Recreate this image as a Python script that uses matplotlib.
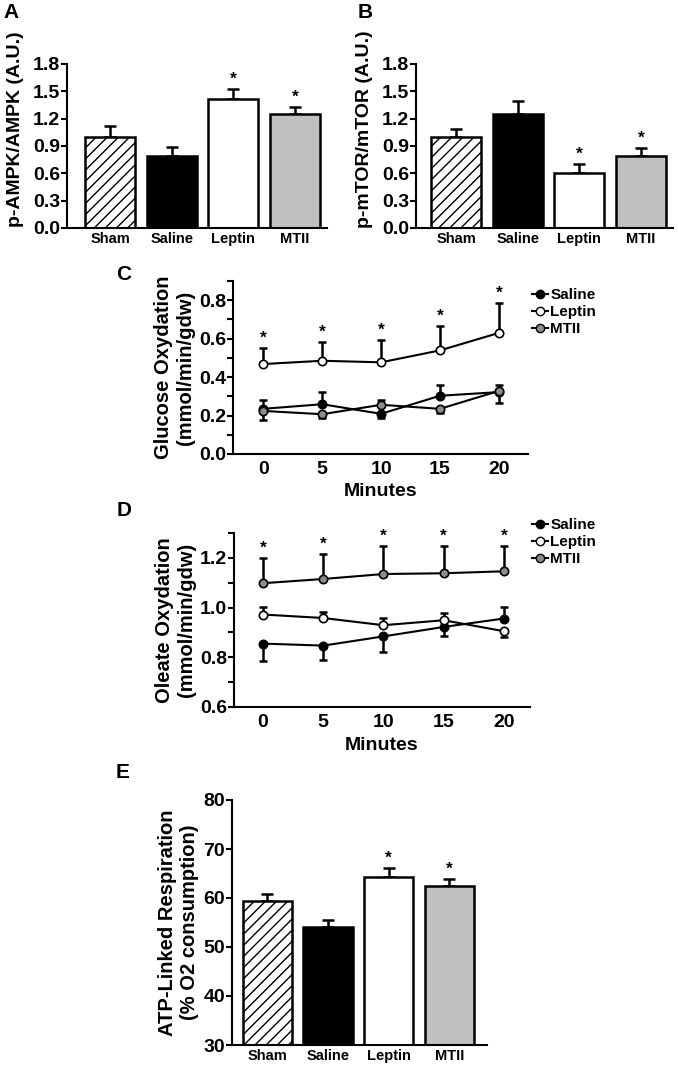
import matplotlib
matplotlib.use("Agg")
import matplotlib.pyplot as plt
import numpy as np
from matplotlib.lines import Line2D

plt.rcParams['font.family'] = ['Liberation Sans', 'DejaVu Sans']
plt.rcParams['font.weight'] = 'bold'
plt.rcParams['axes.labelweight'] = 'bold'
plt.rcParams['hatch.linewidth'] = 1.0
plt.rcParams['axes.linewidth'] = 1.5

# ---- data ----
groups = ["Sham", "Saline", "Leptin", "MTII"]
bar_colors = ["white", "black", "white", "#c0c0c0"]
bar_hatch = ["///", None, None, None]

ampk = [1.00, 0.79, 1.42, 1.25]
ampk_err = [0.12, 0.10, 0.11, 0.08]
ampk_sig = [False, False, True, True]

mtor = [1.00, 1.25, 0.60, 0.79]
mtor_err = [0.09, 0.14, 0.10, 0.09]
mtor_sig = [False, False, True, True]

atp = [59.4, 54.1, 64.3, 62.45]
atp_err = [1.5, 1.5, 1.9, 1.4]
atp_sig = [False, False, True, True]

minutes = [0, 5, 10, 15, 20]

glu_saline = [0.235, 0.259, 0.209, 0.303, 0.322]
glu_saline_lo = [0.0, 0.0, 0.023, 0.0, 0.058]
glu_saline_hi = [0.047, 0.066, 0.0, 0.054, 0.0]
glu_leptin = [0.468, 0.485, 0.477, 0.539, 0.630]
glu_leptin_hi = [0.083, 0.099, 0.116, 0.129, 0.156]
glu_mtii = [0.224, 0.207, 0.256, 0.235, 0.328]
glu_mtii_lo = [0.047, 0.021, 0.0, 0.023, 0.0]
glu_mtii_hi = [0.0, 0.0, 0.026, 0.0, 0.029]

ole_saline = [0.855, 0.847, 0.884, 0.922, 0.956]
ole_saline_lo = [0.069, 0.057, 0.061, 0.035, 0.0]
ole_saline_hi = [0.0, 0.0, 0.0, 0.0, 0.048]
ole_leptin = [0.972, 0.958, 0.929, 0.949, 0.905]
ole_leptin_lo = [0.0, 0.0, 0.0, 0.0, 0.025]
ole_leptin_hi = [0.031, 0.025, 0.030, 0.030, 0.0]
ole_mtii = [1.098, 1.115, 1.135, 1.138, 1.146]
ole_mtii_hi = [0.102, 0.101, 0.112, 0.109, 0.101]

line_colors = {"Saline": "black", "Leptin": "white", "MTII": "#8c8c8c"}

W, H = 678, 1065
fig = plt.figure(figsize=(W / 100, H / 100), dpi=100)


def px_axes(left, right, top, bottom):
    return fig.add_axes([left / W, 1 - bottom / H, (right - left) / W, (bottom - top) / H])


def star(ax, x, y):
    ax.annotate("*", xy=(x, y), xytext=(0, 1.5), textcoords="offset points",
                ha="center", va="bottom", fontsize=12.5, fontweight="bold")


def bar_panel(ax, vals, errs, sig, ylim, yticks, ylabel, xlim):
    x = np.arange(len(groups))
    ax.bar(x, vals, width=0.81, color=bar_colors, edgecolor="black", linewidth=1.8,
           hatch=bar_hatch, zorder=2)
    ax.errorbar(x, vals, yerr=[np.zeros(len(vals)), errs], fmt="none", ecolor="black",
                elinewidth=1.8, capsize=4, capthick=1.8, zorder=1)
    for xi, v, e, s in zip(x, vals, errs, sig):
        if s:
            star(ax, xi, v + e)
    ax.set_xlim(*xlim)
    ax.set_ylim(*ylim)
    ax.set_yticks(yticks)
    ax.set_xticks(x)
    ax.set_xticklabels(groups, fontsize=10.5)
    ax.tick_params(axis="x", length=0, pad=3)
    ax.tick_params(axis="y", length=4, width=1.5, labelsize=14, pad=1)
    ax.spines[["top", "right"]].set_visible(False)
    ax.set_ylabel(ylabel, fontsize=14.5, labelpad=3)


def errline(ax, y, lo, hi, face, label):
    ax.errorbar(minutes, y, yerr=[lo, hi], fmt="none", ecolor="black", elinewidth=1.8,
                capsize=3, capthick=1.8, zorder=2)
    ax.plot(minutes, y, color="black", linewidth=1.5, marker="o", markersize=6,
            markerfacecolor=face, markeredgecolor="black", markeredgewidth=1.2,
            zorder=3, label=label)


def line_panel(ax, xlim, ylim, yticks, minor, ylabel, leg_top):
    ax.set_xlim(*xlim)
    ax.set_ylim(*ylim)
    ax.set_xticks(minutes)
    ax.set_yticks(yticks)
    ax.set_yticks(minor, minor=True)
    ax.tick_params(axis="x", length=0, labelsize=14, pad=5)
    ax.tick_params(axis="y", which="both", length=4, width=1.5, labelsize=14, pad=1)
    ax.spines[["top", "right"]].set_visible(False)
    ax.set_ylabel(ylabel, fontsize=14.5, labelpad=3)
    ax.set_xlabel("Minutes", fontsize=14, labelpad=4)
    handles = [Line2D([], [], color="black", linewidth=1.5, marker="o", markersize=6,
                      markerfacecolor=line_colors[k], markeredgecolor="black")
               for k in ["Saline", "Leptin", "MTII"]]
    fig.legend(handles, ["Saline", "Leptin", "MTII"], loc="upper left",
               bbox_to_anchor=(532 / W, 1 - leg_top / H), bbox_transform=fig.transFigure,
               frameon=False, handlelength=1.05, handletextpad=0.15, labelspacing=0.2,
               borderpad=0, borderaxespad=0, fontsize=11)


def panel_letter(x, y, s):
    fig.text(x / W, 1 - y / H, s, fontsize=15, fontweight="bold", ha="center", va="center")


# ---- A ----
axA = px_axes(67, 327, 64, 228)
bar_panel(axA, ampk, ampk_err, ampk_sig, (0, 1.8), np.arange(0, 1.81, 0.3),
          "p-AMPK/AMPK (A.U.)", (-0.70, 3.52))
axA.set_yticklabels([f"{v:.1f}" for v in np.arange(0, 1.81, 0.3)])
axA.yaxis.label.set_size(14)
axA.yaxis.set_label_coords(-0.165, 0.6)
panel_letter(11, 13, "A")

# ---- B ----
axB = px_axes(416, 673, 64, 228)
bar_panel(axB, mtor, mtor_err, mtor_sig, (0, 1.8), np.arange(0, 1.81, 0.3),
          "p-mTOR/mTOR (A.U.)", (-0.65, 3.52))
axB.set_yticklabels([f"{v:.1f}" for v in np.arange(0, 1.81, 0.3)])
axB.yaxis.label.set_size(14)
axB.yaxis.set_label_coords(-0.167, 0.6)
panel_letter(365, 13, "B")

# ---- C ----
axC = px_axes(233, 528, 281, 454)
errline(axC, glu_saline, glu_saline_lo, glu_saline_hi, line_colors["Saline"], "Saline")
errline(axC, glu_leptin, np.zeros(5), glu_leptin_hi, line_colors["Leptin"], "Leptin")
errline(axC, glu_mtii, glu_mtii_lo, glu_mtii_hi, line_colors["MTII"], "MTII")
for m, v, e in zip(minutes, glu_leptin, glu_leptin_hi):
    star(axC, m, v + e)
line_panel(axC, (-2.57, 22.47), (0, 0.9), [0.0, 0.2, 0.4, 0.6, 0.8],
           [0.1, 0.3, 0.5, 0.7, 0.9], "Glucose Oxydation\n(mmol/min/gdw)", 288)
panel_letter(124, 274, "C")

# ---- D ----
axD = px_axes(234, 530, 533, 707)
errline(axD, ole_saline, ole_saline_lo, ole_saline_hi, line_colors["Saline"], "Saline")
errline(axD, ole_leptin, ole_leptin_lo, ole_leptin_hi, line_colors["Leptin"], "Leptin")
errline(axD, ole_mtii, np.zeros(5), ole_mtii_hi, line_colors["MTII"], "MTII")
for m, v, e in zip(minutes, ole_mtii, ole_mtii_hi):
    star(axD, m, v + e)
line_panel(axD, (-2.41, 22.17), (0.6, 1.3), [0.6, 0.8, 1.0, 1.2],
           [0.7, 0.9, 1.1, 1.3], "Oleate Oxydation\n(mmol/min/gdw)", 518)
panel_letter(124, 510, "D")

# ---- E ----
axE = px_axes(232, 487, 800, 1045)
bar_panel(axE, atp, atp_err, atp_sig, (30, 80), np.arange(30, 81, 10),
          "ATP-Linked Respiration\n(% O2 consumption)", (-0.58, 3.62))
panel_letter(123, 772, "E")

fig.savefig("out.png", dpi=100)
